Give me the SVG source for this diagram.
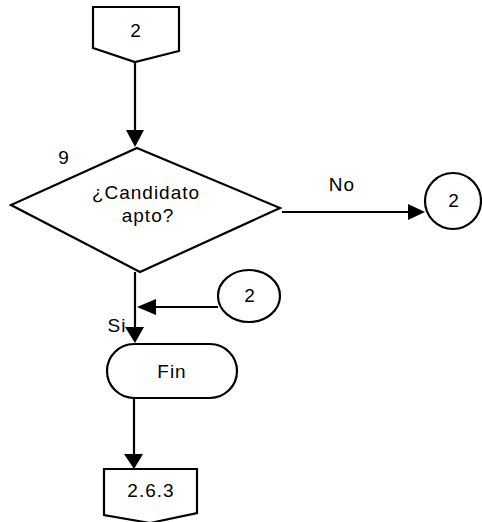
<svg xmlns="http://www.w3.org/2000/svg" width="482" height="522" viewBox="0 0 482 522">
<defs>
<style>
.s{fill:none;stroke:#000;stroke-width:2.2;stroke-linejoin:miter}
.f{fill:#fff;stroke:#000;stroke-width:2.2}
.t{font-family:"Liberation Sans","DejaVu Sans",sans-serif;font-size:19px;letter-spacing:1px;fill:#000;text-anchor:middle}
</style>
</defs>
<rect width="482" height="522" fill="#fff"/>
<g id="connectors">
<line class="s" x1="135" y1="62" x2="135" y2="130"/>
<polygon points="126,130 144,130 135,147" fill="#000"/>
<line class="s" x1="282" y1="212" x2="408" y2="212"/>
<polygon points="408,204 408,220 425,212" fill="#000"/>
<line class="s" x1="135" y1="272" x2="135" y2="327"/>
<polygon points="125,327 144,327 135,343" fill="#000"/>
<line class="s" x1="218" y1="307" x2="155" y2="307"/>
<polygon points="156,299 156,315 137,307" fill="#000"/>
<line class="s" x1="134" y1="398" x2="134" y2="454"/>
<polygon points="124,454 143,454 134,469" fill="#000"/>
<text class="t" x="342" y="191">No</text>
<text class="t" x="117" y="332">Si</text>
</g>
<g id="n_top">
<polygon class="f" points="93,7 179,7 179,51 135,62 93,48"/>
<text class="t" x="136" y="37">2</text>
</g>
<g id="n_decision">
<polygon class="f" points="137,148 280,208 140,272 11,205"/>
<text class="t" x="64" y="164">9</text>
<text class="t" x="146" y="199">¿Candidato</text>
<text class="t" x="148" y="222">apto?</text>
</g>
<g id="n_conn_no">
<ellipse class="f" cx="453" cy="201" rx="28" ry="28"/>
<text class="t" x="454" y="207">2</text>
</g>
<g id="n_conn_in">
<ellipse class="f" cx="249" cy="296" rx="31" ry="26"/>
<text class="t" x="250" y="302">2</text>
</g>
<g id="n_fin">
<rect class="f" x="107" y="344" width="130" height="54" rx="27" ry="27"/>
<text class="t" x="172" y="378">Fin</text>
</g>
<g id="n_bottom">
<polygon class="f" points="104,469 197,469 197,513 150,523 104,515"/>
<text class="t" x="151" y="497">2.6.3</text>
</g>
</svg>
